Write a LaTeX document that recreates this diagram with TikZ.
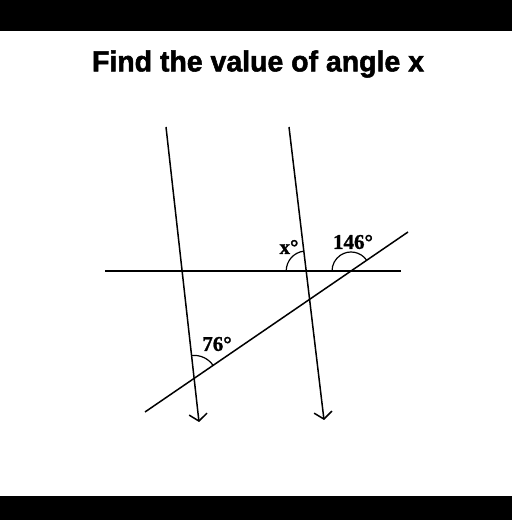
\documentclass[tikz,border=0pt]{standalone}
\usepackage{fontspec}
\setmainfont{Liberation Serif}[BoldFeatures={FakeBold=1.2}]
\newfontfamily\titlefont{Liberation Sans}[BoldFeatures={FakeBold=1.8}]
\usetikzlibrary{arrows.meta,intersections,angles}
\begin{document}
\begin{tikzpicture}[x=1pt,y=1pt,
  geo/.style={line width=1.5pt,black},
  arr/.style={geo,-{Straight Barb[length=7pt,width=18pt,line width=1.5pt]}},
  lbl/.style={font=\fontsize{21}{21}\selectfont\bfseries,inner sep=0pt},
  arcline/.style={line width=1.2pt,black}]
\useasboundingbox (0,0) rectangle (512,520);
\fill[white] (0,0) rectangle (512,520);
\fill[black] (0,489) rectangle (512,520);
\fill[black] (0,0) rectangle (512,24);
\node[inner sep=0pt] (title) at (258,456) {\resizebox{332pt}{\height}{\titlefont\fontsize{29}{29}\selectfont\bfseries Find the value of angle x}};
% lines
\coordinate (a1) at (166,393);
\coordinate (b1) at (199,98);
\coordinate (a2) at (289,393);
\coordinate (b2) at (324,100);
\coordinate (h1) at (105,249);
\coordinate (h2) at (401,249);
\coordinate (t1) at (145,108);
\coordinate (t2) at (408,288);
\draw[arr,name path=l1] (a1) -- (b1);
\draw[arr,name path=l2] (a2) -- (b2);
\draw[geo,name path=hh] (h1) -- (h2);
\draw[geo,name path=tt] (t1) -- (t2);
\path[name intersections={of=l2 and hh,by=px}];
\path[name intersections={of=tt and hh,by=pq}];
\path[name intersections={of=l1 and tt,by=pr}];
% angle arcs
\pic[draw,arcline,angle radius=20pt] {angle=a2--px--h1};
\pic[draw,arcline,angle radius=19pt] {angle=t2--pq--h1};
\pic[draw,arcline,angle radius=23pt] {angle=t2--pr--a1};
% labels
\node[lbl] (lx) at (289,273) {x°};
\node[lbl] (l146) at (353,278) {146°};
\node[lbl] (l76) at (217,176) {76°};
\end{tikzpicture}
\end{document}
